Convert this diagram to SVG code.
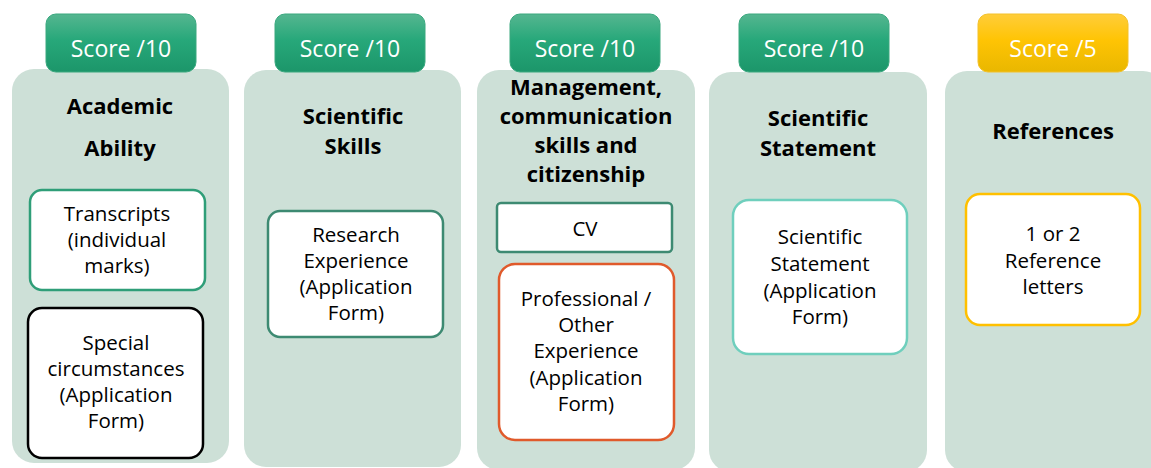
<svg xmlns="http://www.w3.org/2000/svg" width="1151" height="468" viewBox="0 0 1151 468">
  <defs>
    <linearGradient id="gGreen" x1="0" y1="0" x2="0" y2="1">
      <stop offset="0" stop-color="#55b690"/>
      <stop offset="0.45" stop-color="#27a87a"/>
      <stop offset="1" stop-color="#1c966a"/>
    </linearGradient>
    <linearGradient id="gGold" x1="0" y1="0" x2="0" y2="1">
      <stop offset="0" stop-color="#ffcd3a"/>
      <stop offset="0.45" stop-color="#ffc404"/>
      <stop offset="1" stop-color="#e9b700"/>
    </linearGradient>
  </defs>
  <style>
    .panel { fill: #cde0d7; }
    .badge-g { fill: url(#gGreen); stroke: #3aa87f; stroke-width: 1; }
    .badge-y { fill: url(#gGold); stroke: #f3c12a; stroke-width: 1; }
    .score { font-family: "Open Sans", "Liberation Sans", sans-serif; font-size: 23px; fill: #ffffff; text-anchor: middle; }
    .title { font-family: "Open Sans", "Liberation Sans", sans-serif; font-size: 22px; font-weight: bold; fill: #000000; text-anchor: middle; }
    .item { fill: #ffffff; stroke-width: 2.5; }
    .label { font-family: "Open Sans", "Liberation Sans", sans-serif; font-size: 20.5px; fill: #000000; text-anchor: middle; }
  </style>
  <rect width="1151" height="468" fill="#ffffff"/>

  <!-- Academic Ability -->
  <g id="academic">
    <rect class="panel" x="12" y="69" width="217" height="394" rx="22"/>
    <rect class="badge-g" x="46" y="14" width="150" height="58" rx="10"/>
    <text class="score" x="121" y="57">Score /10</text>
    <text class="title" x="120" y="114">Academic</text>
    <text class="title" x="120" y="156">Ability</text>
    <g id="transcripts">
      <rect class="item" x="30" y="190" width="175" height="100" rx="12" stroke="#2f9e78"/>
      <text class="label" x="117" y="221">Transcripts</text>
      <text class="label" x="117" y="247">(individual</text>
      <text class="label" x="117" y="273">marks)</text>
    </g>
    <g id="special">
      <rect class="item" x="28" y="308" width="175" height="150" rx="14" stroke="#000000"/>
      <text class="label" x="116" y="350">Special</text>
      <text class="label" x="116" y="376">circumstances</text>
      <text class="label" x="116" y="402">(Application</text>
      <text class="label" x="116" y="428">Form)</text>
    </g>
  </g>

  <!-- Scientific Skills -->
  <g id="skills">
    <rect class="panel" x="244" y="70" width="217" height="397" rx="22"/>
    <rect class="badge-g" x="275" y="14" width="150" height="58" rx="10"/>
    <text class="score" x="350" y="57">Score /10</text>
    <text class="title" x="353" y="124">Scientific</text>
    <text class="title" x="353" y="154">Skills</text>
    <g id="research">
      <rect class="item" x="268" y="211" width="175" height="126" rx="12" stroke="#3d8a72"/>
      <text class="label" x="356" y="242">Research</text>
      <text class="label" x="356" y="268">Experience</text>
      <text class="label" x="356" y="294">(Application</text>
      <text class="label" x="356" y="320">Form)</text>
    </g>
  </g>

  <!-- Management, communication skills and citizenship -->
  <g id="management">
    <rect class="panel" x="477" y="70" width="218" height="400" rx="22"/>
    <rect class="badge-g" x="510" y="14" width="150" height="58" rx="10"/>
    <text class="score" x="585" y="57">Score /10</text>
    <text class="title" x="586" y="95">Management,</text>
    <text class="title" x="586" y="124">communication</text>
    <text class="title" x="586" y="153">skills and</text>
    <text class="title" x="586" y="182">citizenship</text>
    <g id="cv">
      <rect class="item" x="497" y="203" width="175" height="49" rx="4" stroke="#3d8a72"/>
      <text class="label" x="585" y="236">CV</text>
    </g>
    <g id="professional">
      <rect class="item" x="499" y="264" width="175" height="176" rx="16" stroke="#e05a2b"/>
      <text class="label" x="586" y="306">Professional /</text>
      <text class="label" x="586" y="332">Other</text>
      <text class="label" x="586" y="358">Experience</text>
      <text class="label" x="586" y="385">(Application</text>
      <text class="label" x="586" y="411">Form)</text>
    </g>
  </g>

  <!-- Scientific Statement -->
  <g id="statement">
    <rect class="panel" x="709" y="72" width="218" height="400" rx="22"/>
    <rect class="badge-g" x="739" y="14" width="150" height="58" rx="10"/>
    <text class="score" x="814" y="57">Score /10</text>
    <text class="title" x="818" y="126">Scientific</text>
    <text class="title" x="818" y="156">Statement</text>
    <g id="statement-form">
      <rect class="item" x="733" y="200" width="174" height="154" rx="16" stroke="#6fcfbd"/>
      <text class="label" x="820" y="244">Scientific</text>
      <text class="label" x="820" y="271">Statement</text>
      <text class="label" x="820" y="298">(Application</text>
      <text class="label" x="820" y="324">Form)</text>
    </g>
  </g>

  <!-- References -->
  <g id="references">
    <rect class="panel" x="945" y="71" width="220" height="401" rx="22"/>
    <rect class="badge-y" x="978" y="14" width="150" height="58" rx="10"/>
    <text class="score" x="1053" y="57">Score /5</text>
    <text class="title" x="1053" y="139">References</text>
    <g id="letters">
      <rect class="item" x="966" y="194" width="174" height="131" rx="14" stroke="#ffc000"/>
      <text class="label" x="1053" y="241">1 or 2</text>
      <text class="label" x="1053" y="268">Reference</text>
      <text class="label" x="1053" y="294">letters</text>
    </g>
  </g>

  <!-- no connectors between the columns -->
  <g id="connectors"/>
</svg>
